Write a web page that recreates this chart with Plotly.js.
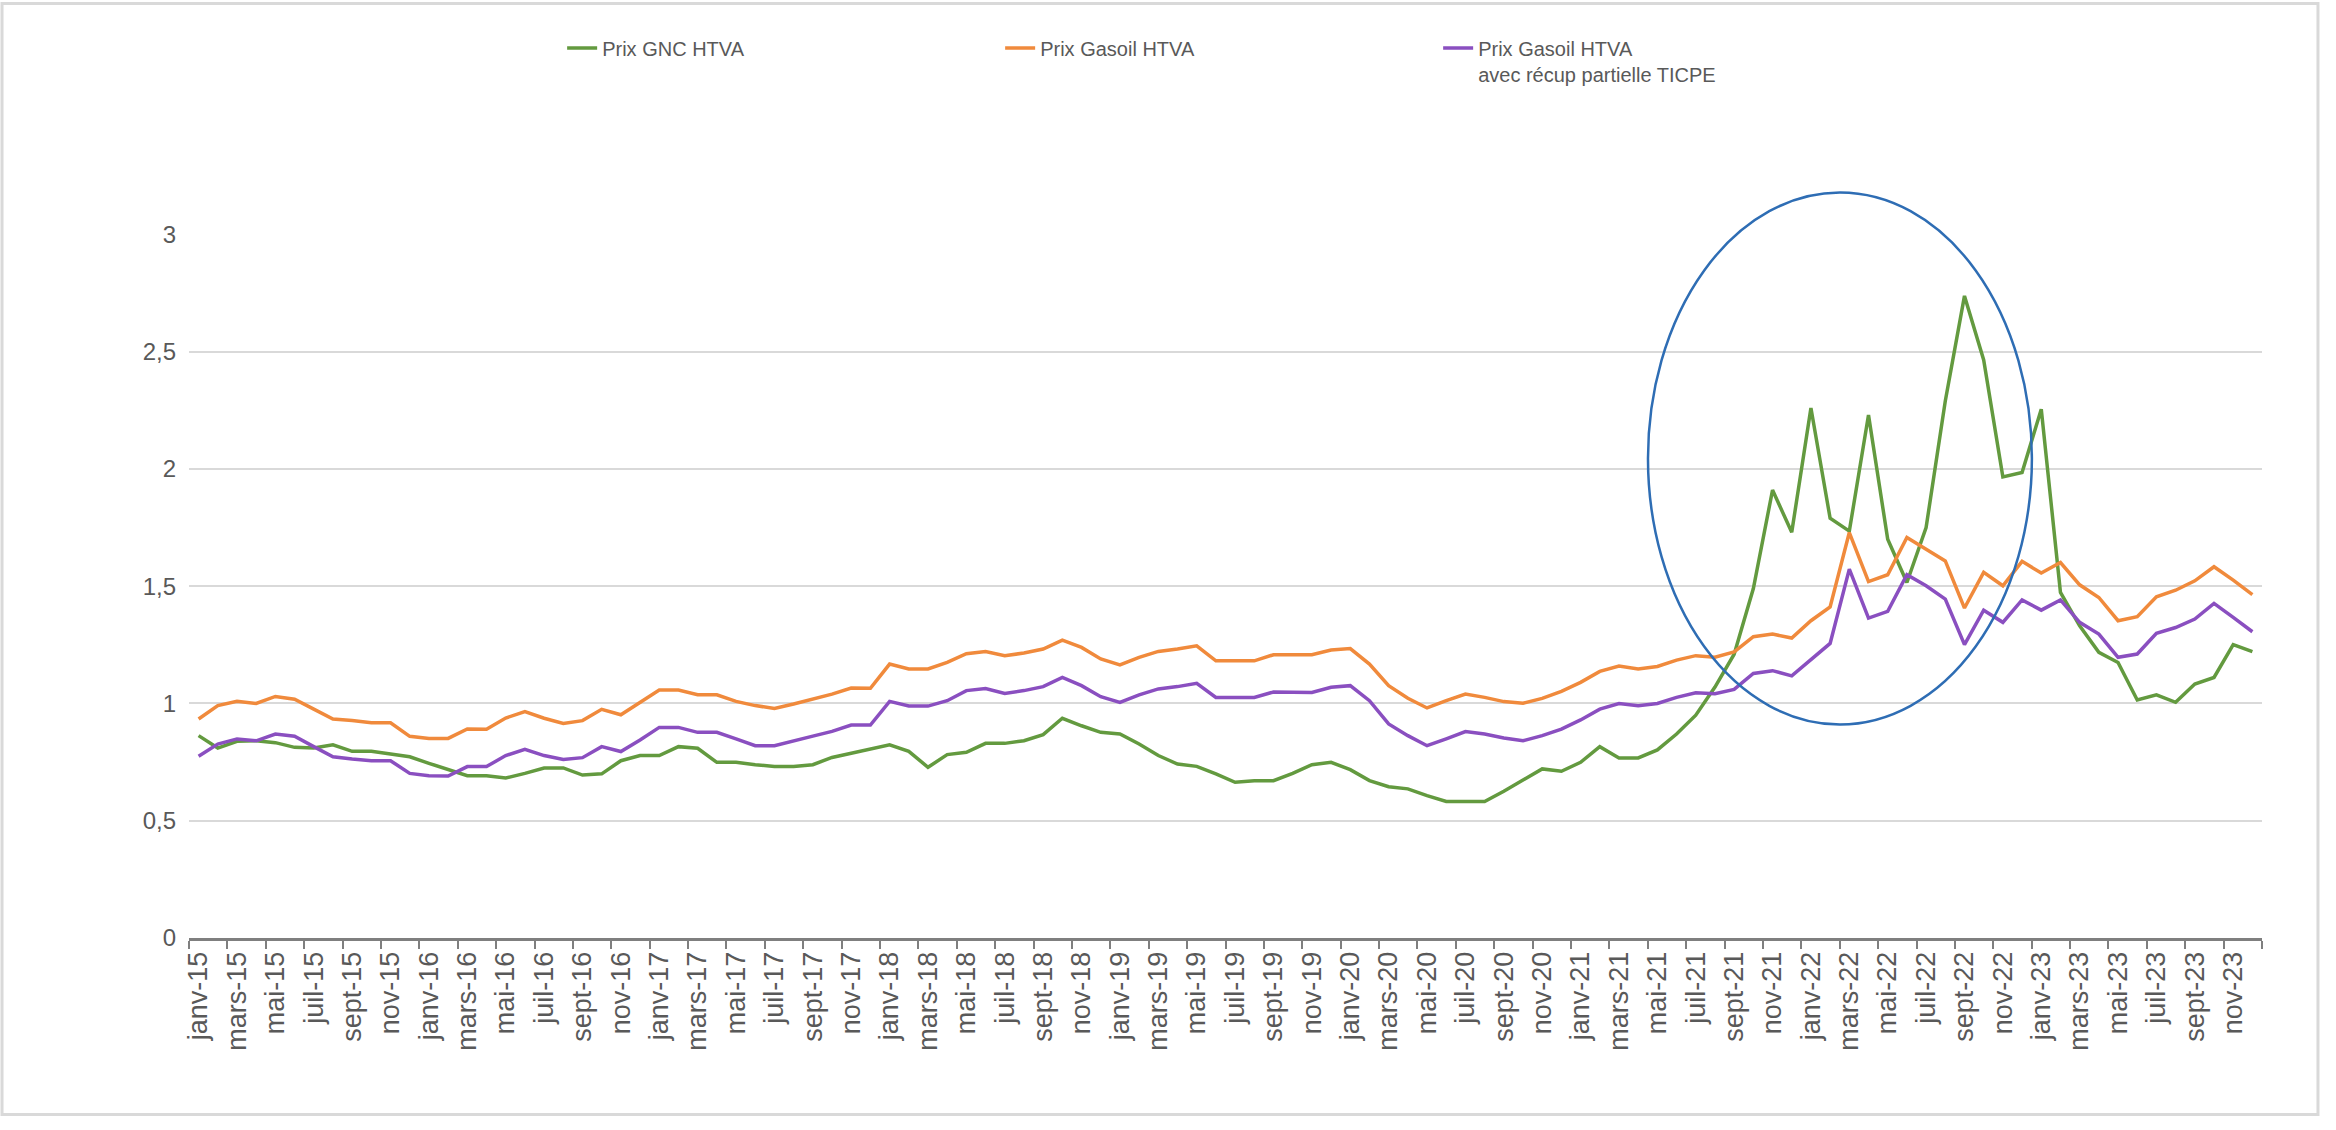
<!DOCTYPE html>
<html>
<head>
<meta charset="utf-8">
<script src="https://cdn.plot.ly/plotly-3.0.1.min.js"></script>
<style>
  html, body { margin: 0; padding: 0; background: #ffffff; }
  #chart { width: 2336px; height: 1130px; }
</style>
</head>
<body>
<div id="chart"></div>
<script>
// Category labels (months janv-15 ... déc-23)
const monthNames = ['janv','févr','mars','avr','mai','juin','juil','août','sept','oct','nov','déc'];
const years = ['15','16','17','18','19','20','21','22','23'];
const categories = [];
years.forEach(y => monthNames.forEach(m => categories.push(m + '-' + y)));

// Series names
const nameGNC = 'Prix GNC HTVA';
const nameGasoil = 'Prix Gasoil HTVA';
const nameGasoilRecup = 'Prix Gasoil HTVA<br>avec récup partielle TICPE';

// Prix GNC HTVA (green)
const prixGNC = [
  0.863,0.810,0.839,0.841,0.833,0.813,0.810,0.824,0.796,0.796,0.785,0.773,
  0.745,0.717,0.692,0.692,0.682,0.702,0.725,0.725,0.695,0.700,0.756,0.778,
  0.778,0.816,0.809,0.749,0.749,0.739,0.731,0.731,0.739,0.770,0.788,0.806,
  0.824,0.796,0.728,0.782,0.792,0.830,0.830,0.841,0.867,0.937,0.905,0.877,
  0.870,0.827,0.778,0.742,0.732,0.700,0.664,0.671,0.671,0.702,0.739,0.749,
  0.718,0.671,0.645,0.636,0.607,0.582,0.582,0.582,0.626,0.674,0.721,0.711,
  0.749,0.816,0.768,0.768,0.802,0.870,0.950,1.070,1.210,1.490,1.910,1.730,
  2.260,1.790,1.735,2.230,1.700,1.516,1.750,2.290,2.738,2.465,1.966,1.985,
  2.255,1.474,1.331,1.218,1.175,1.015,1.037,1.005,1.083,1.111,1.251,1.221
];

// Prix Gasoil HTVA (orange)
const prixGasoil = [
  0.934,0.991,1.009,1.000,1.030,1.018,0.976,0.934,0.927,0.918,0.918,0.860,
  0.851,0.851,0.891,0.890,0.938,0.965,0.937,0.915,0.927,0.975,0.952,1.005,
  1.057,1.057,1.037,1.037,1.009,0.991,0.979,0.998,1.019,1.040,1.066,1.065,
  1.168,1.147,1.147,1.175,1.212,1.222,1.204,1.215,1.232,1.270,1.239,1.190,
  1.165,1.197,1.222,1.232,1.246,1.182,1.182,1.182,1.208,1.208,1.208,1.228,
  1.234,1.168,1.076,1.022,0.981,1.012,1.040,1.026,1.008,1.001,1.022,1.052,
  1.090,1.137,1.160,1.147,1.158,1.185,1.204,1.197,1.220,1.285,1.296,1.279,
  1.353,1.412,1.729,1.520,1.549,1.708,1.658,1.608,1.407,1.559,1.502,1.606,
  1.556,1.601,1.506,1.452,1.353,1.370,1.455,1.483,1.523,1.583,1.526,1.464
];

// Prix Gasoil HTVA avec récup partielle TICPE (purple)
const prixGasoilRecup = [
  0.775,0.827,0.849,0.841,0.870,0.860,0.816,0.773,0.763,0.756,0.756,0.702,
  0.692,0.691,0.731,0.731,0.778,0.805,0.778,0.761,0.769,0.816,0.795,0.844,
  0.898,0.898,0.877,0.877,0.849,0.820,0.820,0.842,0.861,0.881,0.908,0.908,
  1.009,0.989,0.989,1.012,1.055,1.064,1.043,1.055,1.072,1.111,1.076,1.029,
  1.005,1.037,1.062,1.072,1.086,1.026,1.026,1.026,1.049,1.047,1.047,1.069,
  1.076,1.012,0.913,0.863,0.820,0.849,0.880,0.870,0.853,0.841,0.863,0.891,
  0.930,0.976,1.000,0.990,1.000,1.026,1.046,1.042,1.060,1.128,1.140,1.118,
  1.189,1.256,1.573,1.364,1.393,1.549,1.502,1.445,1.251,1.398,1.346,1.442,
  1.398,1.442,1.346,1.296,1.197,1.211,1.299,1.324,1.360,1.427,1.367,1.306
];

const tickGray = '#595959';
const fontFam = 'Liberation Sans, Arial, sans-serif';

const traces = [
  { x: categories, y: prixGNC, name: nameGNC, type: 'scatter', mode: 'lines',
    line: { color: '#639A3F', width: 3.5 } },
  { x: categories, y: prixGasoil, name: nameGasoil, type: 'scatter', mode: 'lines',
    line: { color: '#F08A3C', width: 3.5 } },
  { x: categories, y: prixGasoilRecup, name: nameGasoilRecup, type: 'scatter', mode: 'lines',
    line: { color: '#8A4FC0', width: 3.5 } }
];

const layout = {
  width: 2336, height: 1130,
  paper_bgcolor: '#ffffff', plot_bgcolor: '#ffffff',
  separators: ', ',
  margin: { l: 189, r: 74, t: 234, b: 192, autoexpand: false },
  font: { family: fontFam, color: tickGray },
  showlegend: true,
  legend: {
    orientation: 'h', x: 0.180, y: 1.292, xanchor: 'left', yanchor: 'top',
    font: { size: 20, color: tickGray, family: fontFam },
    entrywidth: 393, entrywidthmode: 'pixels',
    valign: 'top', bgcolor: 'rgba(0,0,0,0)', traceorder: 'normal'
  },
  xaxis: {
    type: 'category', range: [-0.5, 107.5], dtick: 2, tickson: 'boundaries',
    ticks: 'outside', ticklen: 8, tickwidth: 2, tickcolor: '#7f7f7f',
    tickangle: -90, tickfont: { size: 27, color: tickGray, family: fontFam },
    showgrid: false, showline: true, linecolor: '#7f7f7f', linewidth: 3,
    zeroline: false, fixedrange: true
  },
  yaxis: {
    range: [0, 3.002], dtick: 0.5, tick0: 0, showgrid: true, gridcolor: '#d9d9d9', gridwidth: 2,
    zeroline: false, showline: false, ticks: '', ticklabelstandoff: 12,
    tickfont: { size: 24, color: tickGray, family: fontFam }, fixedrange: true
  },
  shapes: [
    { type: 'rect', xref: 'paper', yref: 'paper', x0: -0.0902, x1: 1.027, y0: -0.2507, y1: 1.3274,
      line: { color: '#d9d9d9', width: 3 }, fillcolor: 'rgba(0,0,0,0)', layer: 'below' },
    { type: 'circle', xref: 'paper', yref: 'paper', x0: 0.7038, x1: 0.8890, y0: 0.3033, y1: 1.0589,
      line: { color: '#2E6DB4', width: 2.5 }, fillcolor: 'rgba(0,0,0,0)', layer: 'above' }
  ]
};

Plotly.newPlot('chart', traces, layout, { displayModeBar: false, staticPlot: true });
</script>
</body>
</html>
